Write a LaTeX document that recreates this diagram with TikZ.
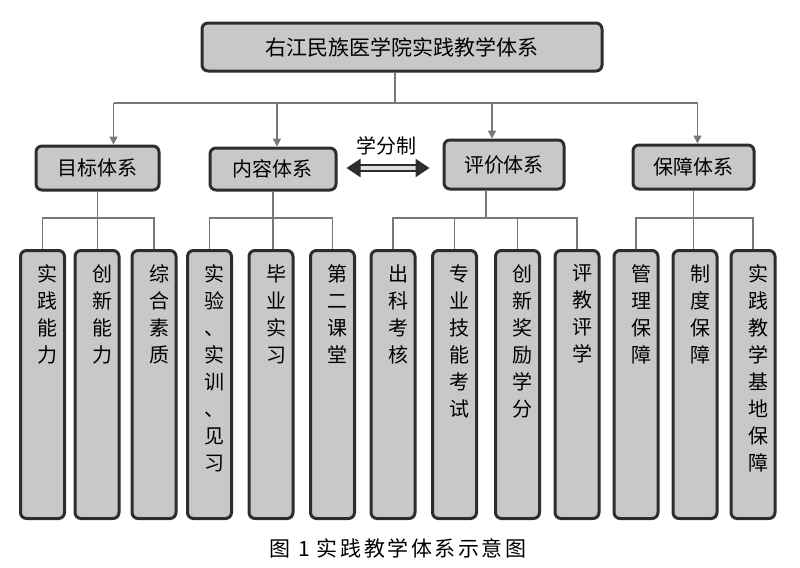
\documentclass[tikz,border=0pt]{standalone}
\usepackage{fontspec}
\setmainfont{Noto Sans CJK SC}
\usetikzlibrary{arrows.meta,positioning}
\definecolor{boxGray}{RGB}{200,200,200}
\definecolor{edgeDark}{RGB}{45,45,45}
\definecolor{lineGray}{RGB}{120,120,120}
\newcommand{\colstack}[1]{\parbox[c][132pt][t]{20pt}{\centering\leftskip=5pt plus 1fil\vspace*{6pt}#1}}
\begin{document}
\begin{tikzpicture}[x=0.5pt,y=-0.5pt,
    box/.style={draw=edgeDark,line width=1.5pt,fill=boxGray,rounded corners=3pt,inner sep=1pt},
    head/.style={box,minimum height=22pt,font=\fontsize{10}{12}\selectfont},
    col/.style={box,minimum width=21pt,font=\fontsize{10}{13.5}\selectfont},
    link/.style={draw=lineGray,line width=0.8pt},
    arr/.style={link,-{Triangle[length=4pt,width=4pt]}},
    both/.style={draw=edgeDark,line width=1.3pt,double=boxGray!60,double distance=1.6pt,
                 {Triangle[length=7pt,width=9pt]}-{Triangle[length=7pt,width=9pt]}}
  ]
  \useasboundingbox (0,0) rectangle (800,568);

  % top and second level
  \node[box,minimum width=200pt,minimum height=24pt,font=\fontsize{10.5}{12}\selectfont] (top) at (402,47) {右江民族医学院实践教学体系};
  \node[head,minimum width=61.5pt] (mb) at (97.5,168) {目标体系};
  \node[head,minimum width=63pt,minimum height=21pt] (nr) at (273,169) {内容体系};
  \node[head,minimum width=60pt,minimum height=24.5pt] (pj) at (504,164.5) {评价体系};
  \node[head,minimum width=60.5pt] (bz) at (693.5,167) {保障体系};

  % columns
  \node[col] (a1) at (42.5,384.5) {\colstack{实\\践\\能\\力}};
  \node[col] (a2) at (97,384.5) {\colstack{创\\新\\能\\力}};
  \node[col] (a3) at (154,384.5) {\colstack{综\\合\\素\\质}};
  \node[col] (b1) at (209.5,384.5) {\colstack{实\\验\\、\\实\\训\\、\\见\\习}};
  \node[col] (b2) at (271,384.5) {\colstack{毕\\业\\实\\习}};
  \node[col] (b3) at (332.5,384.5) {\colstack{第\\二\\课\\堂}};
  \node[col] (c1) at (393,384.5) {\colstack{出\\科\\考\\核}};
  \node[col] (c2) at (454.5,384.5) {\colstack{专\\业\\技\\能\\考\\试}};
  \node[col] (c3) at (517.5,384.5) {\colstack{创\\新\\奖\\励\\学\\分}};
  \node[col] (c4) at (577,384.5) {\colstack{评\\教\\评\\学}};
  \node[col] (d1) at (636,384.5) {\colstack{管\\理\\保\\障}};
  \node[col] (d2) at (695,384.5) {\colstack{制\\度\\保\\障}};
  \node[col] (d3) at (753,384.5) {\colstack{实\\践\\教\\学\\基\\地\\保\\障}};

  % top connectors
  \coordinate (bus) at (0,103);
  \draw[link] ([xshift=-3.5pt]top.south) -- ([xshift=-3.5pt]top.south |- bus);
  \draw[link] ([xshift=8pt]mb.north |- bus) -- ([xshift=2pt]bz.north |- bus);
  \foreach \n/\s in {mb/8pt,nr/2pt,pj/-6pt,bz/2pt}
    \draw[arr] ([xshift=\s]\n.north |- bus) -- ([xshift=\s]\n.north);

  % the link between content and evaluation
  \draw[both,shorten <=4.5pt,shorten >=6.5pt] ([yshift=0.5pt]nr.east) -- ([yshift=0.5pt]nr.east -| pj.west);
  \node[font=\fontsize{10}{12}\selectfont] (xf) at (387,146) {学分制};

  % group connectors
  \coordinate (lo) at (0,218);
  \draw[link] (a1.north) -- (a1.north |- lo) -- (a3.north |- lo) -- (a3.north);
  \draw[link] (mb.south) -- (mb.south |- a2.north);
  \draw[link] (b1.north) -- (b1.north |- lo) -- (b3.north |- lo) -- (b3.north);
  \draw[link] (nr.south) -- (nr.south |- b2.north);
  \draw[link] (c1.north) -- (c1.north |- lo) -- (c4.north |- lo) -- (c4.north);
  \draw[link] ([xshift=-9pt]pj.south) -- ([xshift=-9pt]pj.south |- lo);
  \foreach \n in {c2,c3}
    \draw[link] (\n.north) -- (\n.north |- lo);
  \draw[link] (d1.north) -- (d1.north |- lo) -- (d3.north |- lo) -- (d3.north);
  \draw[link] (bz.south) -- (bz.south |- d2.north);

  % caption
  \node[font=\fontsize{10.5}{12}\selectfont\addfontfeature{LetterSpace=12}] (cap) at (398,548) {图\ 1\ 实践教学体系示意图};
\end{tikzpicture}
\end{document}
